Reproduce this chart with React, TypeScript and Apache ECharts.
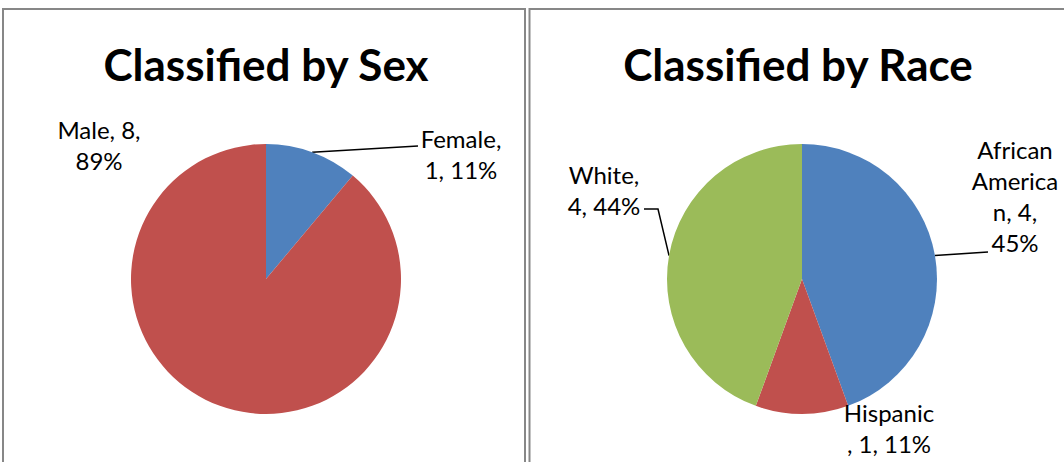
import React, { useEffect, useRef } from 'react';
import * as echarts from 'echarts';

const sexCategories = ['Female', 'Male'];
const sexValues = [1, 8];
const raceCategories = ['African American', 'Hispanic', 'White'];
const raceValues = [4, 1, 4];
const chartTitles = ['Classified by Sex', 'Classified by Race'];

const sexColors = ['#4F81BD', '#C0504D'];
const raceColors = ['#4F81BD', '#C0504D', '#9BBB59'];

// wrap width of each label box, in characters (Excel-like wrapping)
const sexWrap = [8, 8];
const raceWrap = [7, 8, 8];
const sexLeader = [true, false];
const raceLeader = [true, false, true];

// label block centres (layout only)
const labelCenters: number[][][] = [
  [[461, 154], [99, 145]],
  [[1015, 196], [889, 428], [604, 190]],
];
// leader line points after the slice anchor (layout only)
const leaderTails: (number[][] | null)[][] = [
  [[[418, 146]], null],
  [[[988, 252]], null, [[658, 209], [644, 209]]],
];

function wrapText(text: string, max: number): string {
  const words = text.split(' ');
  const lines: string[] = [];
  let cur = '';
  const place = (w: string) => {
    let word = w;
    while (word.length > max) {
      lines.push(word.slice(0, max));
      word = word.slice(max);
    }
    cur = word;
  };
  for (const w of words) {
    if (cur === '') {
      place(w);
    } else if ((cur + ' ' + w).length <= max) {
      cur = cur + ' ' + w;
    } else {
      lines.push(cur);
      cur = '';
      place(w);
    }
  }
  if (cur !== '') lines.push(cur);
  return lines.join('\n');
}

const FONT = 'Lato, "Open Sans", sans-serif';

function makeSeries(
  idx: number,
  cats: string[],
  vals: number[],
  cols: string[],
  wraps: number[],
  leaders: boolean[],
  center: [number, number]
) {
  return {
    type: 'pie',
    center,
    radius: 135,
    startAngle: 90,
    clockwise: true,
    percentPrecision: 0,
    avoidLabelOverlap: false,
    minShowLabelAngle: 0,
    data: cats.map((c, i) => ({
      name: c,
      value: vals[i],
      itemStyle: { color: cols[i] },
      labelLine: { show: leaders[i] },
    })),
    label: {
      show: true,
      position: 'outside',
      color: '#000',
      fontFamily: FONT,
      fontSize: 24,
      lineHeight: 31,
      width: 140,
      overflow: 'none',
      align: 'center',
      formatter: (p: any) =>
        wrapText(`${p.name}, ${p.value}, ${p.percent}%`, wraps[p.dataIndex]),
    },
    labelLine: {
      show: true,
      lineStyle: { color: '#000', width: 1.5 },
    },
    labelLayout: (p: any) => {
      const [x, y] = labelCenters[idx][p.dataIndex];
      const res: any = { x, y, align: 'center', verticalAlign: 'middle' };
      const tail = leaderTails[idx][p.dataIndex];
      if (tail && p.labelLinePoints) {
        res.labelLinePoints = [p.labelLinePoints[0], ...tail];
      }
      return res;
    },
    emphasis: { disabled: true },
  };
}

export default function App() {
  const ref = useRef<HTMLDivElement>(null);
  useEffect(() => {
    if (!ref.current) return;
    const chart = echarts.init(ref.current, null, { renderer: 'svg' });
    chart.setOption({
      animation: false,
      backgroundColor: '#fff',
      graphic: [
        {
          type: 'rect',
          z: -1,
          shape: { x: 3, y: 9, width: 522, height: 520 },
          style: { fill: 'none', stroke: '#878787', lineWidth: 2 },
        },
        {
          type: 'rect',
          z: -1,
          shape: { x: 529.5, y: 9, width: 600, height: 520 },
          style: { fill: 'none', stroke: '#878787', lineWidth: 2 },
        },
        {
          type: 'text',
          x: 266,
          y: 64,
          style: {
            text: chartTitles[0],
            fontFamily: FONT,
            fontWeight: 'bold',
            fontSize: 44,
            fill: '#000',
            textAlign: 'center',
            textVerticalAlign: 'middle',
          },
        },
        {
          type: 'text',
          x: 798,
          y: 64,
          style: {
            text: chartTitles[1],
            fontFamily: FONT,
            fontWeight: 'bold',
            fontSize: 44,
            fill: '#000',
            textAlign: 'center',
            textVerticalAlign: 'middle',
          },
        },
      ],
      series: [
        makeSeries(0, sexCategories, sexValues, sexColors, sexWrap, sexLeader, [266, 279]),
        makeSeries(1, raceCategories, raceValues, raceColors, raceWrap, raceLeader, [802, 279]),
      ],
    });
    return () => chart.dispose();
  }, []);
  return (
    <div
      ref={ref}
      style={{ position: 'absolute', left: 0, top: 0, width: 1064, height: 462 }}
    />
  );
}
